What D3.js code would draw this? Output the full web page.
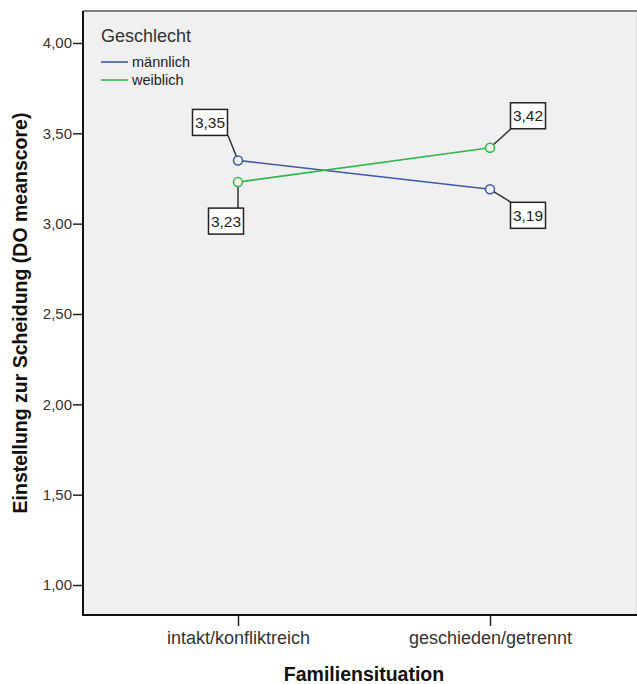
<!DOCTYPE html>
<html><head><meta charset="utf-8">
<script src="https://cdn.jsdelivr.net/npm/d3@7/dist/d3.min.js"></script>
<style>body{margin:0;background:#fff}svg{display:block}text{font-family:Arial,"Liberation Sans",sans-serif}</style>
</head><body>
<script>
const categories = ["intakt/konfliktreich", "geschieden/getrennt"];
const seriesNames = ["männlich", "weiblich"];
const maennlich = [3.35, 3.19];
const weiblich = [3.23, 3.42];
const yTicks = [1.00, 1.50, 2.00, 2.50, 3.00, 3.50, 4.00];
const colors = ["#3e58ac", "#2eb848"];

const W = 637, H = 684;
const pLeft = 83, pRight = 636, pTop = 11, pBottom = 615;
const svg = d3.select("body").append("svg").attr("width", W).attr("height", H);

const y = d3.scaleLinear().domain([0.834, 4.177]).range([pBottom, pTop]);
const x = d3.scalePoint().domain(categories).range([238, 490]);

// plot background
svg.append("rect").attr("x", pLeft).attr("y", pTop).attr("width", pRight - pLeft).attr("height", pBottom - pTop)
  .attr("fill", "#f0f0f0").attr("stroke", "#d8d8d8").attr("stroke-width", 1);
svg.append("line").attr("x1", pLeft).attr("x2", W).attr("y1", pTop).attr("y2", pTop)
  .attr("stroke", "#808080").attr("stroke-width", 2);

// y axis
const yAxis = d3.axisLeft(y).tickValues(yTicks).tickSize(10).tickPadding(1)
  .tickFormat(d => d3.format(".2f")(d).replace(".", ","));
const gy = svg.append("g").attr("transform", `translate(${pLeft},0)`).call(yAxis);
gy.select(".domain").remove();
gy.selectAll(".tick line").attr("stroke", "#222").attr("stroke-width", 1.5);
gy.selectAll(".tick text").attr("font-size", 15).attr("fill", "#333").attr("font-family", "Arial, 'Liberation Sans', sans-serif");
svg.append("line").attr("x1", pLeft).attr("x2", pLeft).attr("y1", pTop).attr("y2", pBottom + 1).attr("stroke", "#111").attr("stroke-width", 2);

// x axis
const xAxis = d3.axisBottom(x).tickSize(11).tickPadding(5);
const gx = svg.append("g").attr("transform", `translate(0,${pBottom})`).call(xAxis);
gx.select(".domain").remove();
gx.selectAll(".tick line").attr("stroke", "#222").attr("stroke-width", 1.5);
gx.selectAll(".tick text").attr("font-size", 18).attr("fill", "#333").attr("font-family", "Arial, 'Liberation Sans', sans-serif");
svg.append("line").attr("x1", pLeft - 1).attr("x2", W).attr("y1", pBottom).attr("y2", pBottom).attr("stroke", "#111").attr("stroke-width", 2);

// axis titles
svg.append("text").attr("x", 364).attr("y", 681).attr("text-anchor", "middle")
  .attr("font-size", 19.5).attr("font-weight", "bold").attr("fill", "#111")
  .text("Familiensituation");
svg.append("text").attr("transform", `translate(27,${(pTop + pBottom) / 2}) rotate(-90)`).attr("text-anchor", "middle")
  .attr("font-size", 19.5).attr("font-weight", "bold").attr("fill", "#111")
  .text("Einstellung zur Scheidung (DO meanscore)");

// series
const series = [maennlich, weiblich].map((vals, i) => ({
  name: seriesNames[i], color: colors[i],
  pts: vals.map((v, j) => ({cat: categories[j], v: v, j: j}))
}));
const line = d3.line().x(d => x(d.cat)).y(d => y(d.v));
series.forEach(s => {
  svg.append("path").attr("d", line(s.pts)).attr("fill", "none").attr("stroke", s.color).attr("stroke-width", 1.6);
});

// labels
const labelBoxes = [];
categories.forEach((c, j) => {
  const vals = series.map(s => s.pts[j].v);
  series.forEach((s, i) => {
    const v = s.pts[j].v;
    const high = v === d3.max(vals);
    const px = x(c), py = y(v);
    let cx, cy, ax, ay;
    if (j === 0) {
      if (high) { cx = px - 28; cy = py - 38; ax = cx + 18; ay = cy + 13; }
      else { cx = px - 12; cy = py + 39; ax = px; ay = cy - 13; }
    } else {
      if (high) { cx = px + 38; cy = py - 32; ax = cx - 17; ay = cy + 13; }
      else { cx = px + 38; cy = py + 26; ax = cx - 17; ay = cy - 13; }
    }
    labelBoxes.push({px, py, cx, cy, ax, ay, v, color: s.color});
  });
});
labelBoxes.forEach(b => {
  svg.append("line").attr("x1", b.px).attr("y1", b.py).attr("x2", b.ax).attr("y2", b.ay)
    .attr("stroke", "#333").attr("stroke-width", 1.5);
});
labelBoxes.forEach(b => {
  svg.append("circle").attr("cx", b.px).attr("cy", b.py).attr("r", 4.5)
    .attr("fill", "#f0f0f0").attr("stroke", b.color).attr("stroke-width", 1.5);
  svg.append("rect").attr("x", b.cx - 17.5).attr("y", b.cy - 13).attr("width", 35).attr("height", 26)
    .attr("fill", "#fff").attr("stroke", "#222").attr("stroke-width", 1.5);
  svg.append("text").attr("x", b.cx).attr("y", b.cy + 5.5).attr("text-anchor", "middle")
    .attr("font-size", 15.5).attr("fill", "#222").text(d3.format(".2f")(b.v).replace(".", ","));
});

// legend
svg.append("text").attr("x", 101).attr("y", 42).attr("font-size", 18).attr("fill", "#333").text("Geschlecht");
series.forEach((s, i) => {
  const ly = 62 + i * 18;
  svg.append("line").attr("x1", 101).attr("x2", 128).attr("y1", ly).attr("y2", ly).attr("stroke", s.color).attr("stroke-width", 1.6);
  svg.append("text").attr("x", 132).attr("y", ly + 5).attr("font-size", 14.5).attr("fill", "#222").text(s.name);
});
</script>
</body></html>
